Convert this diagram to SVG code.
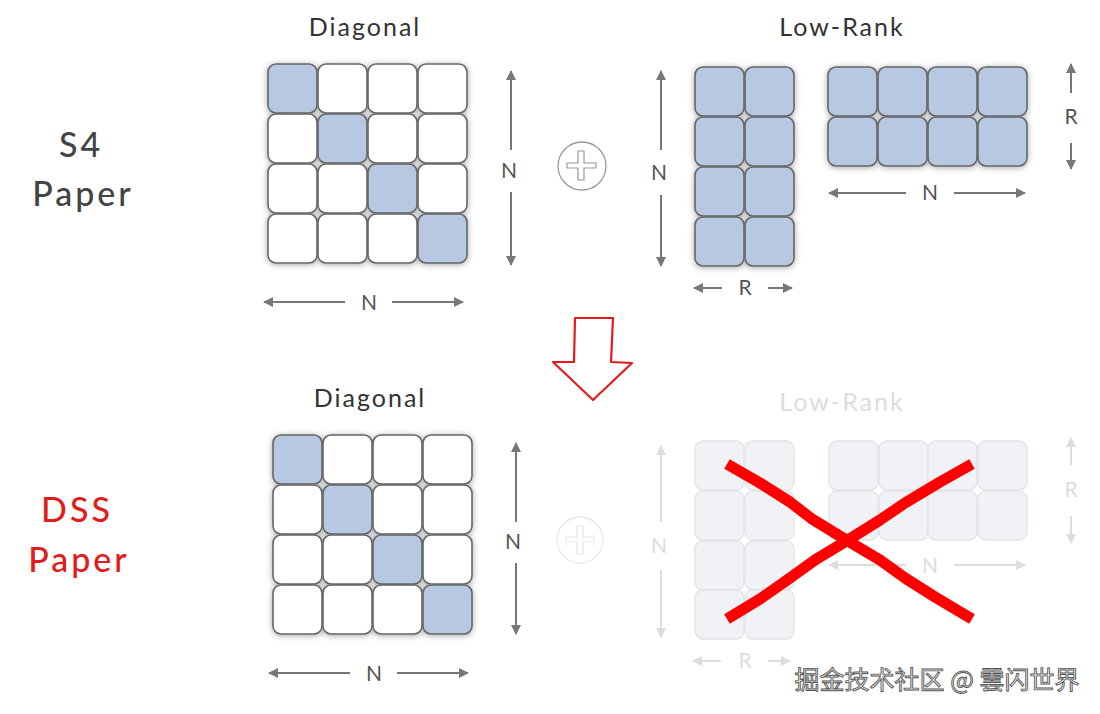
<svg xmlns="http://www.w3.org/2000/svg" width="1100" height="714" viewBox="0 0 1100 714">
<defs>
<filter id="sh" x="-10%" y="-10%" width="120%" height="120%">
<feGaussianBlur in="SourceAlpha" stdDeviation="3"/>
<feOffset dx="0" dy="1" result="b"/>
<feComponentTransfer><feFuncA type="linear" slope="0.35"/></feComponentTransfer>
<feMerge><feMergeNode/><feMergeNode in="SourceGraphic"/></feMerge>
</filter>
<marker id="ah" viewBox="0 0 10 10" refX="9" refY="5" markerWidth="5" markerHeight="5" orient="auto-start-reverse">
<path d="M0,0 L10,5 L0,10 z" fill="#777"/>
</marker>
<marker id="ahf" viewBox="0 0 10 10" refX="9" refY="5" markerWidth="5" markerHeight="5" orient="auto-start-reverse">
<path d="M0,0 L10,5 L0,10 z" fill="#ddd"/>
</marker>
</defs>
<style>
.c{fill:#fff;stroke:#666;stroke-width:1.6}
.b{fill:#b7c8e2;stroke:#666;stroke-width:1.6}
.f{fill:#f0f2f6;stroke:#e2e4e8;stroke-width:1.4}
.ar{stroke:#777;stroke-width:2;fill:none}
.arf{stroke:#ddd;stroke-width:2;fill:none}
.t{font-family:"Lato","Noto Sans",sans-serif;fill:#444}
.title{font-size:25px;text-anchor:middle;letter-spacing:2px;font-weight:400;fill:#333}
.lbl{font-size:21px;text-anchor:middle;fill:#555}
.lblf{font-size:21px;text-anchor:middle;fill:#ddd}
.side{font-size:34px;text-anchor:middle;letter-spacing:3px;font-weight:500}
</style>
<rect width="1100" height="714" fill="#fff"/>

<g id="label-s4">
<text class="t side" x="81" y="157">S4</text>
<text class="t side" x="83" y="206">Paper</text>
</g>
<g id="label-dss">
<text class="t side" x="77" y="522" style="fill:#e31b1b">DSS</text>
<text class="t side" x="79" y="572" style="fill:#e31b1b">Paper</text>
</g>

<g id="top-diagonal">
<text class="t title" x="365" y="36">Diagonal</text>
<g filter="url(#sh)">
<rect class="b" x="268" y="64" width="49" height="49" rx="8"/>
<rect class="c" x="318" y="64" width="49" height="49" rx="8"/>
<rect class="c" x="368" y="64" width="49" height="49" rx="8"/>
<rect class="c" x="418" y="64" width="49" height="49" rx="8"/>
<rect class="c" x="268" y="114" width="49" height="49" rx="8"/>
<rect class="b" x="318" y="114" width="49" height="49" rx="8"/>
<rect class="c" x="368" y="114" width="49" height="49" rx="8"/>
<rect class="c" x="418" y="114" width="49" height="49" rx="8"/>
<rect class="c" x="268" y="164" width="49" height="49" rx="8"/>
<rect class="c" x="318" y="164" width="49" height="49" rx="8"/>
<rect class="b" x="368" y="164" width="49" height="49" rx="8"/>
<rect class="c" x="418" y="164" width="49" height="49" rx="8"/>
<rect class="c" x="268" y="214" width="49" height="49" rx="8"/>
<rect class="c" x="318" y="214" width="49" height="49" rx="8"/>
<rect class="c" x="368" y="214" width="49" height="49" rx="8"/>
<rect class="b" x="418" y="214" width="49" height="49" rx="8"/>
</g>
</g>

<g id="top-plus">
<circle cx="582" cy="166" r="24" fill="#fff" stroke="#999" stroke-width="1.3"/>
<path d="M578,151 L584,151 L584,163 L596,163 L596,168 L584,168 L584,180 L578,180 L578,168 L567,168 L567,163 L578,163 Z" fill="none" stroke="#999" stroke-width="1.2"/>
</g>

<g id="top-lowrank">
<text class="t title" x="842" y="36">Low-Rank</text>
<g filter="url(#sh)">
<rect class="b" x="695" y="67" width="49" height="49" rx="8"/>
<rect class="b" x="745" y="67" width="49" height="49" rx="8"/>
<rect class="b" x="695" y="117" width="49" height="49" rx="8"/>
<rect class="b" x="745" y="117" width="49" height="49" rx="8"/>
<rect class="b" x="695" y="167" width="49" height="49" rx="8"/>
<rect class="b" x="745" y="167" width="49" height="49" rx="8"/>
<rect class="b" x="695" y="217" width="49" height="49" rx="8"/>
<rect class="b" x="745" y="217" width="49" height="49" rx="8"/>
</g>
<g filter="url(#sh)">
<rect class="b" x="828" y="67" width="49" height="49" rx="8"/>
<rect class="b" x="878" y="67" width="49" height="49" rx="8"/>
<rect class="b" x="928" y="67" width="49" height="49" rx="8"/>
<rect class="b" x="978" y="67" width="49" height="49" rx="8"/>
<rect class="b" x="828" y="117" width="49" height="49" rx="8"/>
<rect class="b" x="878" y="117" width="49" height="49" rx="8"/>
<rect class="b" x="928" y="117" width="49" height="49" rx="8"/>
<rect class="b" x="978" y="117" width="49" height="49" rx="8"/>
</g>
</g>

<g id="red-arrow">
<path d="M575,318 L613,318 L611,362 L632,363 L593,400 L553,362 L574,362 Z" fill="#fff" stroke="#e31b1b" stroke-width="2.2" stroke-linejoin="round"/>
</g>

<g id="bottom-diagonal">
<text class="t title" x="370" y="407">Diagonal</text>
<g filter="url(#sh)">
<rect class="b" x="273" y="435" width="49" height="49" rx="8"/>
<rect class="c" x="323" y="435" width="49" height="49" rx="8"/>
<rect class="c" x="373" y="435" width="49" height="49" rx="8"/>
<rect class="c" x="423" y="435" width="49" height="49" rx="8"/>
<rect class="c" x="273" y="485" width="49" height="49" rx="8"/>
<rect class="b" x="323" y="485" width="49" height="49" rx="8"/>
<rect class="c" x="373" y="485" width="49" height="49" rx="8"/>
<rect class="c" x="423" y="485" width="49" height="49" rx="8"/>
<rect class="c" x="273" y="535" width="49" height="49" rx="8"/>
<rect class="c" x="323" y="535" width="49" height="49" rx="8"/>
<rect class="b" x="373" y="535" width="49" height="49" rx="8"/>
<rect class="c" x="423" y="535" width="49" height="49" rx="8"/>
<rect class="c" x="273" y="585" width="49" height="49" rx="8"/>
<rect class="c" x="323" y="585" width="49" height="49" rx="8"/>
<rect class="c" x="373" y="585" width="49" height="49" rx="8"/>
<rect class="b" x="423" y="585" width="49" height="49" rx="8"/>
</g>
</g>

<g id="bottom-plus">
<circle cx="580" cy="540" r="23" fill="#fff" stroke="#e8e8e8" stroke-width="1.3"/>
<path d="M577,526 L583,526 L583,537 L594,537 L594,542 L583,542 L583,554 L577,554 L577,542 L566,542 L566,537 L577,537 Z" fill="none" stroke="#e6e6e6" stroke-width="1.2"/>
</g>

<g id="bottom-lowrank-faded">
<text class="t title" x="842" y="411" style="fill:#ddd">Low-Rank</text>
<rect class="f" x="695" y="441" width="49" height="49" rx="8"/>
<rect class="f" x="745" y="441" width="49" height="49" rx="8"/>
<rect class="f" x="695" y="491" width="49" height="49" rx="8"/>
<rect class="f" x="745" y="491" width="49" height="49" rx="8"/>
<rect class="f" x="695" y="541" width="49" height="49" rx="8"/>
<rect class="f" x="745" y="541" width="49" height="49" rx="8"/>
<rect class="f" x="695" y="590" width="49" height="49" rx="8"/>
<rect class="f" x="745" y="590" width="49" height="49" rx="8"/>
<rect class="f" x="829" y="441" width="49" height="49" rx="8"/>
<rect class="f" x="879" y="441" width="49" height="49" rx="8"/>
<rect class="f" x="928" y="441" width="49" height="49" rx="8"/>
<rect class="f" x="978" y="441" width="49" height="49" rx="8"/>
<rect class="f" x="829" y="491" width="49" height="49" rx="8"/>
<rect class="f" x="879" y="491" width="49" height="49" rx="8"/>
<rect class="f" x="928" y="491" width="49" height="49" rx="8"/>
<rect class="f" x="978" y="491" width="49" height="49" rx="8"/>
</g>

<g id="connectors">
<line class="ar" x1="511" y1="150" x2="511" y2="71" marker-end="url(#ah)"/>
<line class="ar" x1="511" y1="192" x2="511" y2="265" marker-end="url(#ah)"/>
<text class="t lbl" x="509" y="178">N</text>
<line class="ar" x1="345" y1="302" x2="264" y2="302" marker-end="url(#ah)"/>
<line class="ar" x1="392" y1="302" x2="463" y2="302" marker-end="url(#ah)"/>
<text class="t lbl" x="369" y="310">N</text>
<line class="ar" x1="661" y1="150" x2="661" y2="71" marker-end="url(#ah)"/>
<line class="ar" x1="661" y1="195" x2="661" y2="266" marker-end="url(#ah)"/>
<text class="t lbl" x="659" y="180">N</text>
<line class="ar" x1="722" y1="288" x2="694" y2="288" marker-end="url(#ah)"/>
<line class="ar" x1="768" y1="288" x2="792" y2="288" marker-end="url(#ah)"/>
<text class="t lbl" x="745" y="295">R</text>
<line class="ar" x1="1071" y1="93" x2="1071" y2="64" marker-end="url(#ah)"/>
<line class="ar" x1="1071" y1="143" x2="1071" y2="169" marker-end="url(#ah)"/>
<text class="t lbl" x="1071" y="124">R</text>
<line class="ar" x1="906" y1="193" x2="829" y2="193" marker-end="url(#ah)"/>
<line class="ar" x1="954" y1="193" x2="1025" y2="193" marker-end="url(#ah)"/>
<text class="t lbl" x="930" y="200">N</text>
<line class="ar" x1="516" y1="522" x2="516" y2="443" marker-end="url(#ah)"/>
<line class="ar" x1="516" y1="563" x2="516" y2="634" marker-end="url(#ah)"/>
<text class="t lbl" x="513" y="549">N</text>
<line class="ar" x1="350" y1="673" x2="269" y2="673" marker-end="url(#ah)"/>
<line class="ar" x1="397" y1="673" x2="468" y2="673" marker-end="url(#ah)"/>
<text class="t lbl" x="374" y="681">N</text>
<line class="arf" x1="661" y1="522" x2="661" y2="446" marker-end="url(#ahf)"/>
<line class="arf" x1="661" y1="570" x2="661" y2="637" marker-end="url(#ahf)"/>
<text class="t lblf" x="659" y="553">N</text>
<line class="arf" x1="721" y1="661" x2="693" y2="661" marker-end="url(#ahf)"/>
<line class="arf" x1="768" y1="661" x2="790" y2="661" marker-end="url(#ahf)"/>
<text class="t lblf" x="745" y="668">R</text>
<line class="arf" x1="1071" y1="465" x2="1071" y2="438" marker-end="url(#ahf)"/>
<line class="arf" x1="1071" y1="516" x2="1071" y2="543" marker-end="url(#ahf)"/>
<text class="t lblf" x="1071" y="497">R</text>
<line class="arf" x1="906" y1="565" x2="829" y2="565" marker-end="url(#ahf)"/>
<line class="arf" x1="954" y1="565" x2="1025" y2="565" marker-end="url(#ahf)"/>
<text class="t lblf" x="930" y="573">N</text>
</g>

<g id="red-cross">
<path d="M727,464 L760,483 L790,502 L812,519 L848,541 L880,560 L905,578 L935,597 L972,619" fill="none" stroke="#f00" stroke-width="11" stroke-linejoin="round"/>
<path d="M972,464 L940,482 L905,503 L880,520 L848,540 L815,560 L790,578 L760,599 L727,619" fill="none" stroke="#f00" stroke-width="11" stroke-linejoin="round"/>
</g>

<g id="watermark">
<text x="937" y="689" text-anchor="middle" font-family="Noto Sans CJK SC, sans-serif" font-size="25" fill="#f4f4f4" stroke="#555" stroke-width="0.9">掘金技术社区 @ 雲闪世界</text>
</g>
</svg>
